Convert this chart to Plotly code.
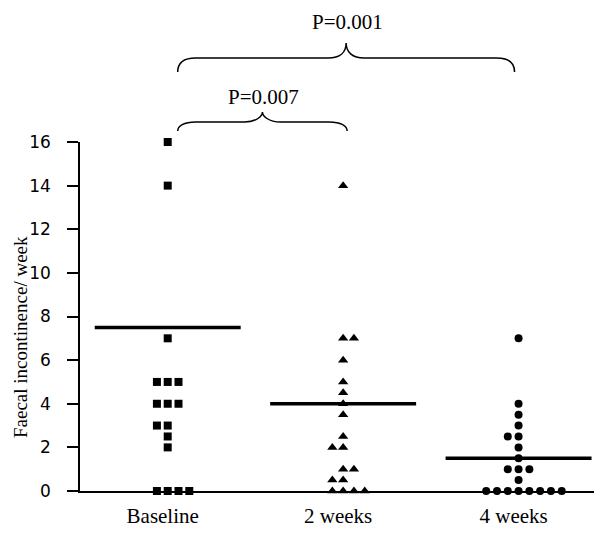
import plotly.graph_objects as go
from collections import Counter

# ---------------- data ----------------
categories = ["Baseline", "2 weeks", "4 weeks"]
baseline = [16, 14, 7, 5, 5, 5, 4, 4, 4, 3, 3, 2.5, 2, 0, 0, 0, 0]
week2 = [14, 7, 7, 6, 5, 4.5, 4, 3.5, 2.5, 2, 2, 1, 1, 0.5, 0.5, 0, 0, 0, 0]
week4 = [7, 4, 3.5, 3, 2.5, 2.5, 2, 1.5, 1, 1, 1, 0.5, 0, 0, 0, 0, 0, 0, 0, 0]
summary_lines = [7.5, 4.0, 1.5]
y_ticks = [0, 2, 4, 6, 8, 10, 12, 14, 16]
comparisons = [("P=0.007", 0, 1), ("P=0.001", 0, 2)]

# ---------------- layout geometry ----------------
W, H = 600, 540
ML, MR, MT, MB = 80, 6, 142, 49
PW, PH = W - ML - MR, H - MT - MB
XR = [-0.5, 2.43]
YR = [0, 16]
STEP = 0.0615  # horizontal spacing between stacked dots (x units)


def swarm_x(values, center):
    counts = Counter(values)
    bias = {}
    right = True
    for v in sorted(counts):
        n = counts[v]
        if n % 2 == 0:
            bias[v] = right
            right = not right
    seen = Counter()
    xs = []
    for v in values:
        n = counts[v]
        i = seen[v]
        seen[v] += 1
        if n % 2 == 1:
            start = -(n // 2)
        else:
            start = -(n // 2 - 1) if bias[v] else -(n // 2)
        xs.append(center + (start + i) * STEP)
    return xs


def x_px(xv):
    return ML + (xv - XR[0]) / (XR[1] - XR[0]) * PW


def to_paper(px, py):
    return (px - ML) / PW, (H - MB - py) / PH


fig = go.Figure()
series = [baseline, week2, week4]
symbols = ["square", "triangle-up", "circle"]
sizes = [8, 9, 8]
for i, vals in enumerate(series):
    fig.add_trace(go.Scatter(
        x=swarm_x(vals, i), y=vals, mode="markers",
        marker=dict(symbol=symbols[i], size=sizes[i], color="black", line=dict(width=0)),
        cliponaxis=False, showlegend=False, hoverinfo="y"))
    fig.add_trace(go.Scatter(
        x=[i - 0.416, i + 0.416], y=[summary_lines[i]] * 2, mode="lines",
        line=dict(color="black", width=3.5), showlegend=False, hoverinfo="skip"))

# ---------------- comparison brackets ----------------
shapes = []
annotations = []
for (label, a, b), (yend, ylev, ypeak, ytext) in zip(
        comparisons, [(131, 122, 112, 97), (72, 58, 43, 22)]):
    L = x_px(a) + 10
    R = x_px(b) + (4 if b == 1 else -4)
    M = (L + R) / 2
    pts = [
        ("M", [(L, yend)]),
        ("C", [(L, ylev + 4), (L + 6, ylev), (L + 18, ylev)]),
        ("L", [(M - 18, ylev)]),
        ("C", [(M - 6, ylev), (M, ylev - 6), (M, ypeak)]),
        ("C", [(M, ylev - 6), (M + 6, ylev), (M + 18, ylev)]),
        ("L", [(R - 18, ylev)]),
        ("C", [(R - 6, ylev), (R, ylev + 4), (R, yend)]),
    ]
    path = ""
    for cmd, ps in pts:
        coords = " ".join("%.5f,%.5f" % to_paper(px, py) for px, py in ps)
        path += f"{cmd} {coords} "
    shapes.append(dict(type="path", xref="paper", yref="paper", path=path.strip(),
                       line=dict(color="black", width=1.5)))
    tx, ty = to_paper(M + 1, ytext)
    annotations.append(dict(text=label, x=tx, y=ty, xref="paper", yref="paper",
                            showarrow=False, xanchor="center", yanchor="middle",
                            font=dict(family="Liberation Serif", size=21, color="black")))

# y-axis title
tx, ty = to_paper(20, 337)
annotations.append(dict(text="Faecal incontinence/ week", x=tx, y=ty, xref="paper", yref="paper",
                        showarrow=False, textangle=-90, xanchor="center", yanchor="middle",
                        font=dict(family="Liberation Serif", size=19, color="black")))

fig.update_layout(
    width=W, height=H,
    margin=dict(l=ML, r=MR, t=MT, b=MB, pad=0),
    paper_bgcolor="white", plot_bgcolor="white",
    shapes=shapes, annotations=annotations,
    hovermode=False,
    xaxis=dict(range=XR, tickmode="array", tickvals=[0, 1, 2], ticktext=categories,
               showgrid=False, zeroline=False, showline=True, linecolor="black", linewidth=1.5,
               ticks="", ticklabelshift=-5, ticklabelstandoff=5,
               tickfont=dict(family="Liberation Serif", size=21, color="black")),
    yaxis=dict(range=YR, tickmode="array", tickvals=y_ticks,
               showgrid=False, zeroline=False, showline=True, linecolor="black", linewidth=1.5,
               ticks="outside", ticklen=11, tickwidth=1.5, tickcolor="black",
               ticklabelstandoff=13,
               tickfont=dict(family="DejaVu Sans", size=17, color="black")),
)

fig.write_html("out.html", config={"displayModeBar": False},
               post_script="document.body.style.margin='0';")
